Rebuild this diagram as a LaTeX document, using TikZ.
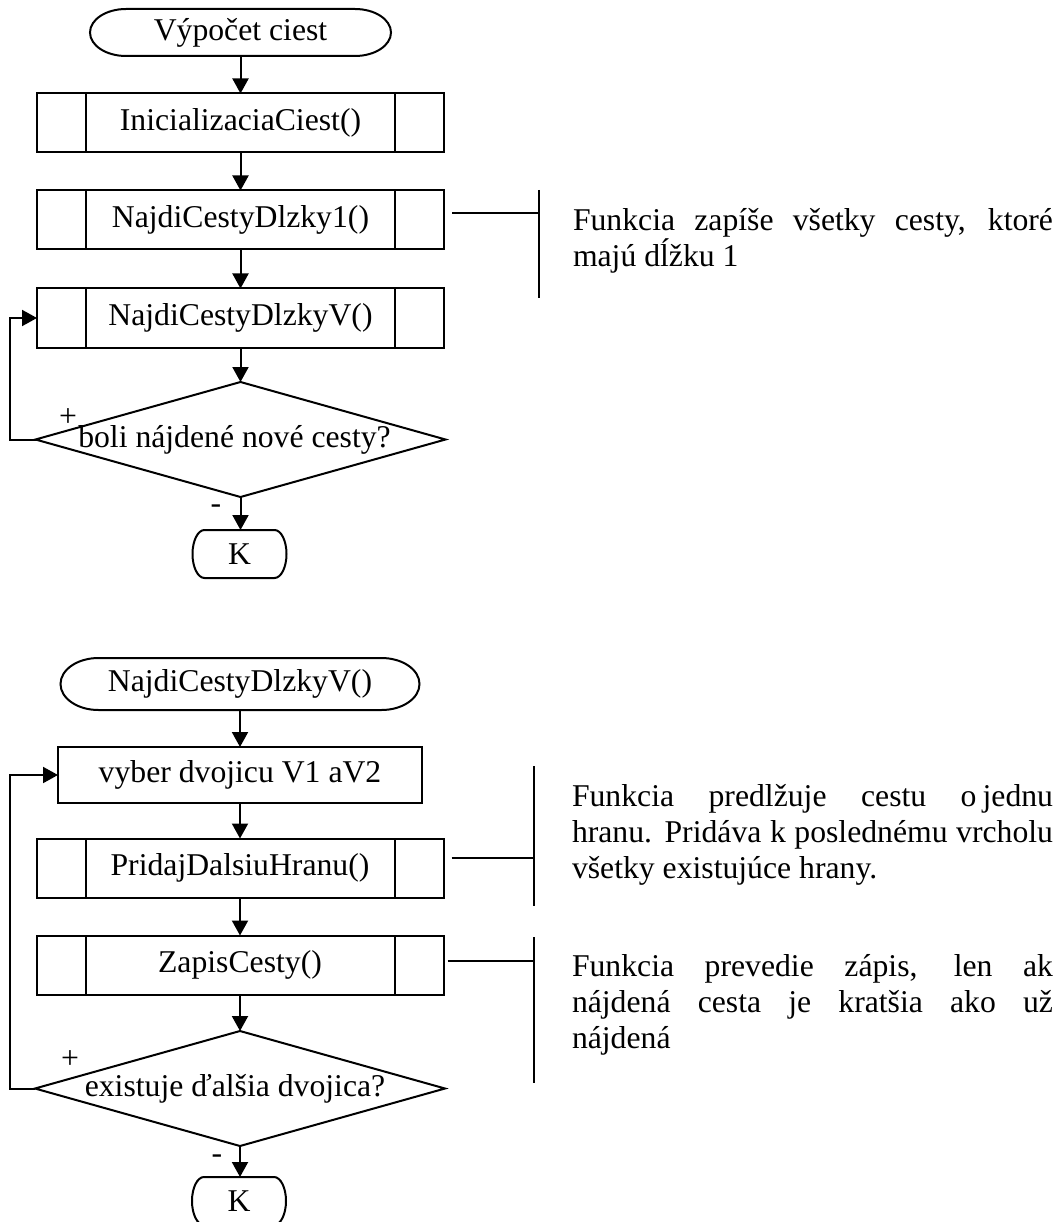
\documentclass[tikz,border=0pt]{standalone}
\usepackage{fontspec}
\setmainfont{Liberation Serif}
\usetikzlibrary{arrows.meta,shapes.geometric}

% outline of a terminal: straight top and bottom, elliptic ends
\newcommand\termshape[3]{%
  \draw[flow] ([xshift=#2pt]#1.north west) -- ([xshift=-#2pt]#1.north east)
    arc[start angle=90,end angle=-90,x radius=#2pt,y radius=#3pt]
    -- ([xshift=#2pt]#1.south west)
    arc[start angle=270,end angle=90,x radius=#2pt,y radius=#3pt] -- cycle;}

\begin{document}
\begin{tikzpicture}[x=1pt,y=1pt,
  every node/.style={font=\fontsize{31.7}{36}\selectfont, inner sep=0pt, outer sep=0pt},
  flow/.style={line width=2pt},
  arr/.style={flow,-{Triangle[length=15pt,width=16pt]}},
  termbox/.style={rectangle},
  procbox/.style={draw, rectangle, line width=2pt, minimum width=364pt, minimum height=56pt},
  subproc/.style={draw, rectangle, line width=2pt, minimum width=407pt, minimum height=59pt,
    path picture={\draw[line width=2pt]
      ([xshift=49pt]path picture bounding box.north west) -- ([xshift=49pt]path picture bounding box.south west)
      ([xshift=-49pt]path picture bounding box.north east) -- ([xshift=-49pt]path picture bounding box.south east);}},
  decision/.style={draw, diamond, line width=2pt, minimum width=410pt, minimum height=115pt},
  note/.style={anchor=base west},
]
\useasboundingbox (0,0) rectangle (1064,-1222);

% ---------- Výpočet ciest ----------
\node[termbox, minimum width=301pt, minimum height=47pt] (t1) at (240.5,-32.5) {Výpočet ciest};
\termshape{t1}{36}{23.5}
\node[subproc] (b1) at (240.5,-123) {InicializaciaCiest()};
\node[subproc] (b2) at (240.5,-220) {NajdiCestyDlzky1()};
\node[subproc] (b3) at (240.5,-318) {NajdiCestyDlzkyV()};
\node[decision] (d1) at (240.5,-439.5) {};
\node (d1t) at ([xshift=-6pt]d1.center) {boli nájdené nové cesty?};
\node[termbox, minimum width=94pt, minimum height=48pt] (k1) at (239.5,-554) {K};
\termshape{k1}{12}{24}
\node (p1) at (68,-418) {+};
\node (m1) at (216,-509) {-};

\draw[arr] (t1) -- (b1);
\draw[arr] (b1) -- (b2);
\draw[arr] (b2) -- (b3);
\draw[arr] (b3) -- (d1);
\draw[arr] (d1.south) -- (d1.south |- k1.north);
\draw[arr] (d1.west) -- ++(-26,0) |- (b3.west);

% note beside NajdiCestyDlzky1()
\coordinate (a1h) at (539,-213);
\coordinate (a1t) at (539,-190);
\coordinate (a1b) at (539,-298);
\path (b2.east |- a1h) ++(8,0) coordinate (a1s);
\draw[flow] (a1s) -- (a1h);
\draw[flow] (a1t) -- (a1b);
\node[note] (n1a) at (573,-231) {\makebox[480pt][s]{Funkcia zapíše všetky cesty, ktoré}};
\node[note] (n1b) at (573,-267) {majú dĺžku 1};

% ---------- NajdiCestyDlzkyV() ----------
\node[termbox, minimum width=359pt, minimum height=52pt] (t2) at (240,-684) {NajdiCestyDlzkyV()};
\termshape{t2}{38}{26}
\node[procbox] (v) at (240,-775) {vyber dvojicu V1 aV2};
\node[subproc] (pr) at (240,-868) {PridajDalsiuHranu()};
\node[subproc] (zc) at (240,-965) {ZapisCesty()};
\node[decision] (d2) at (240,-1088.5) {};
\node (d2t) at ([xshift=-5pt]d2.center) {existuje ďalšia dvojica?};
\node[termbox, minimum width=94pt, minimum height=48pt] (k2) at (239,-1201) {K};
\termshape{k2}{12}{24}
\node (p2) at (70,-1060) {+};
\node (m2) at (217,-1159) {-};

\draw[arr] (t2) -- (v);
\draw[arr] (v) -- (pr);
\draw[arr] (pr) -- (zc);
\draw[arr] (zc) -- (d2);
\draw[arr] (d2.south) -- (d2.south |- k2.north);
\draw[arr] (d2.west) -- ++(-25,0) |- (v.west);

% note beside PridajDalsiuHranu()
\coordinate (a2h) at (534,-858);
\coordinate (a2t) at (534,-766);
\coordinate (a2b) at (534,-906);
\path (pr.east |- a2h) ++(8,0) coordinate (a2s);
\draw[flow] (a2s) -- (a2h);
\draw[flow] (a2t) -- (a2b);
\node[note] (n2a) at (572,-806) {\makebox[481pt][s]{Funkcia predlžuje cestu o\kern6pt jednu}};
\node[note] (n2b) at (572,-842) {\makebox[481pt][s]{hranu. Pridáva k poslednému vrcholu}};
\node[note] (n2c) at (572,-878) {všetky existujúce hrany.};

% note beside ZapisCesty()
\coordinate (a3h) at (534,-961);
\coordinate (a3t) at (534,-937);
\coordinate (a3b) at (534,-1083);
\path (zc.east |- a3h) ++(4,0) coordinate (a3s);
\draw[flow] (a3s) -- (a3h);
\draw[flow] (a3t) -- (a3b);
\node[note] (n3a) at (572,-976) {\makebox[481pt][s]{Funkcia prevedie zápis, len ak}};
\node[note] (n3b) at (572,-1012) {\makebox[481pt][s]{nájdená cesta je kratšia ako už}};
\node[note] (n3c) at (572,-1048) {nájdená};
\end{tikzpicture}
\end{document}
